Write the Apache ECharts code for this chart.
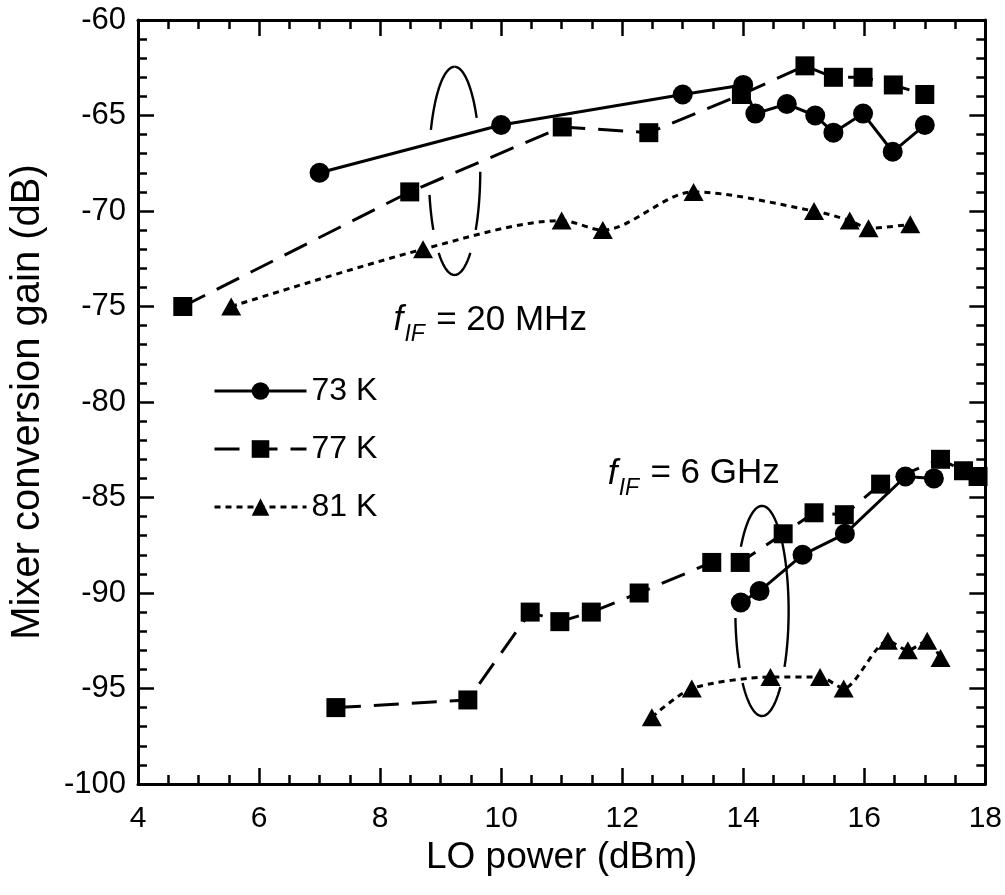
<!DOCTYPE html>
<html><head><meta charset="utf-8">
<script src="https://cdn.jsdelivr.net/npm/echarts@6/dist/echarts.min.js"></script>
<style>html,body{margin:0;padding:0;background:#fff}#c{width:1005px;height:895px}</style>
</head><body><div id="c"></div>
<script>
// ---- axis ranges / ticks ----
const xRange = [4, 18];      // LO power (dBm), major tick every 2
const xStep = 2;
const yRange = [-100, -60];  // conversion gain (dB), major tick every 5
const yStep = 5;
const legendNames = ['73 K', '77 K', '81 K'];

// ---- f_IF = 20 MHz ----
const lo73_20   = [7.0, 10.0, 13.0, 14.0, 14.2, 14.72, 15.19, 15.49, 15.98, 16.47, 17.0];
const gain73_20 = [-68.0, -65.5, -63.9, -63.4, -64.9, -64.4, -65.0, -65.9, -64.9, -66.9, -65.5];
const lo77_20   = [4.74, 8.49, 11.01, 12.44, 13.97, 15.02, 15.49, 15.98, 16.48, 17.0];
const gain77_20 = [-75.0, -69.0, -65.6, -65.9, -63.9, -62.4, -63.0, -63.0, -63.4, -63.9];
const lo81_20   = [5.54, 8.71, 11.0, 11.68, 13.18, 15.17, 15.76, 16.07, 16.76];
const gain81_20 = [-75.0, -72.0, -70.5, -71.0, -69.0, -70.0, -70.5, -70.9, -70.7];

// ---- f_IF = 6 GHz ----
const lo73_6    = [13.96, 14.27, 14.98, 15.68, 16.68, 17.15];
const gain73_6  = [-90.5, -89.9, -88.0, -86.9, -83.9, -84.0];
const lo77_6    = [7.27, 9.45, 10.48, 10.97, 11.49, 12.28, 13.48, 13.95, 14.66, 15.17, 15.67, 16.27, 17.26, 17.64, 17.88];
const gain77_6  = [-96.0, -95.6, -91.0, -91.5, -91.0, -90.0, -88.4, -88.4, -86.9, -85.8, -85.9, -84.3, -83.0, -83.6, -83.9];
const lo81_6    = [12.49, 13.15, 14.45, 15.27, 15.66, 16.39, 16.72, 17.04, 17.26];
const gain81_6  = [-96.5, -95.0, -94.4, -94.4, -95.0, -92.5, -93.0, -92.5, -93.4];

// ---- annotation groupings (ellipses) in data units ----
const ellipses = [
  { cx: 9.23, cy: -67.9, a: 0.425, b: 5.45, arcs: [[-90, -30.6], [0.5, 34.5], [52, 128], [145.5, 166.7], [203.2, 270]] },
  { cx: 14.31, cy: -90.94, a: 0.44, b: 5.5, arcs: [[-62.4, -21.2], [-21.2, 32.2], [46.4, 136.7], [147.1, 176.2], [217.6, 297.6]] }
];

const FONT = "'Liberation Sans', Arial, Helvetica, sans-serif";
const LW = 3;
const DASH = [25, 13];
const DOT = [6, 5];

function pairs(xs, ys) { return xs.map((x, i) => [x, ys[i]]); }
function mk(name, xs, ys, sym, size, dash, smooth) {
  return {
    type: 'line', name: name, data: pairs(xs, ys),
    symbol: sym, symbolSize: size, showSymbol: true, smooth: smooth || false,
    lineStyle: { color: '#000', width: LW, type: dash || 'solid' },
    itemStyle: { color: '#000' }, z: 3, animation: false, clip: false
  };
}

const chart = echarts.init(document.getElementById('c'), null, { renderer: 'canvas' });

const AX_LINE = { show: true, onZero: false, lineStyle: { color: '#000', width: 3 } };
const AX_TICK = { show: true, inside: true, length: 16, lineStyle: { color: '#000', width: 2.5 } };
function minor(n) { return { show: true, splitNumber: n, length: 9, lineStyle: { color: '#000', width: 2.5 } }; }

const series = [
  mk('73 K', lo73_20, gain73_20, 'circle', 20, 'solid'),
  mk('77 K', lo77_20, gain77_20, 'rect', 19, DASH),
  mk('81 K', lo81_20, gain81_20, 'triangle', [20, 18], DOT, 0.3),
  mk('73 K', lo73_6, gain73_6, 'circle', 20, 'solid'),
  mk('77 K', lo77_6, gain77_6, 'rect', 19, DASH),
  mk('81 K', lo81_6, gain81_6, 'triangle', [20, 18], DOT, 0.25),
  {
    type: 'custom', name: 'ellipses', animation: false, z: 2, silent: true,
    data: ellipses.map((e, i) => [e.cx, e.cy, i]),
    encode: { x: 0, y: 1 },
    renderItem: function (params, api) {
      const e = ellipses[api.value(2)];
      const children = e.arcs.map(r => {
        const pts = [];
        const n = 40;
        for (let k = 0; k <= n; k++) {
          const t = (r[0] + (r[1] - r[0]) * k / n) * Math.PI / 180;
          pts.push(api.coord([e.cx + e.a * Math.cos(t), e.cy - e.b * Math.sin(t)]));
        }
        return { type: 'polyline', shape: { points: pts }, style: { stroke: '#000', lineWidth: 2.4, fill: null } };
      });
      return { type: 'group', children: children };
    }
  }
];

chart.setOption({
  backgroundColor: '#fff',
  animation: false,
  textStyle: { fontFamily: FONT },
  grid: { left: 130, right: 18, top: 20, bottom: 111 },
  legend: {
    data: legendNames, orient: 'vertical', left: 213, top: 375,
    itemWidth: 92, itemHeight: 22, itemGap: 26, padding: 0, selectedMode: false,
    textStyle: { fontSize: 32, color: '#000', fontFamily: FONT, lineHeight: 32 },
    lineStyle: { width: LW }
  },
  xAxis: [
    {
      type: 'value', min: xRange[0], max: xRange[1], interval: xStep, position: 'bottom',
      axisLine: AX_LINE, axisTick: AX_TICK, minorTick: minor(4),
      splitLine: { show: false }, minorSplitLine: { show: false },
      axisLabel: { fontSize: 30, color: '#000', margin: 20, fontFamily: FONT },
      name: 'LO power (dBm)', nameLocation: 'middle', nameGap: 54,
      nameTextStyle: { fontSize: 37, color: '#000', fontFamily: FONT }
    },
    {
      type: 'value', min: xRange[0], max: xRange[1], interval: xStep, position: 'top', gridIndex: 0,
      axisLine: AX_LINE, axisTick: AX_TICK, minorTick: minor(4),
      axisLabel: { show: false }, splitLine: { show: false }
    }
  ],
  yAxis: [
    {
      type: 'value', min: yRange[0], max: yRange[1], interval: yStep, position: 'left',
      axisLine: AX_LINE, axisTick: AX_TICK, minorTick: minor(5),
      splitLine: { show: false },
      axisLabel: { fontSize: 31, color: '#000', margin: 12, fontFamily: FONT },
      name: 'Mixer conversion gain (dB)', nameLocation: 'middle', nameGap: 90,
      nameTextStyle: { fontSize: 40, color: '#000', fontFamily: FONT }
    },
    {
      type: 'value', min: yRange[0], max: yRange[1], interval: yStep, position: 'right', gridIndex: 0,
      axisLine: AX_LINE, axisTick: AX_TICK, minorTick: minor(5),
      axisLabel: { show: false }, splitLine: { show: false }
    }
  ],
  series: series
});

// ---- text annotations placed through the axes ----
const notes = [
  { at: [8.22, -76.34], main: ' = 20 MHz' },
  { at: [11.76, -84.40], main: ' = 6 GHz' }
];
const g = [];
notes.forEach(n => {
  const p = chart.convertToPixel({ xAxisIndex: 0, yAxisIndex: 0 }, n.at);
  const fs = 35;
  g.push({ type: 'text', x: p[0], y: p[1] - 0.35 * fs, z: 10,
    style: { text: 'f', font: 'italic ' + fs + 'px ' + FONT, fill: '#000', verticalAlign: 'middle', align: 'left' } });
  g.push({ type: 'text', x: p[0] + 11, y: p[1] + 11 - 0.35 * 23, z: 10,
    style: { text: 'IF', font: 'italic 23px ' + FONT, fill: '#000', verticalAlign: 'middle', align: 'left' } });
  g.push({ type: 'text', x: p[0] + 33, y: p[1] - 0.35 * fs, z: 10,
    style: { text: n.main, font: fs + 'px ' + FONT, fill: '#000', verticalAlign: 'middle', align: 'left' } });
});
chart.setOption({ graphic: g });
</script>
</body></html>
